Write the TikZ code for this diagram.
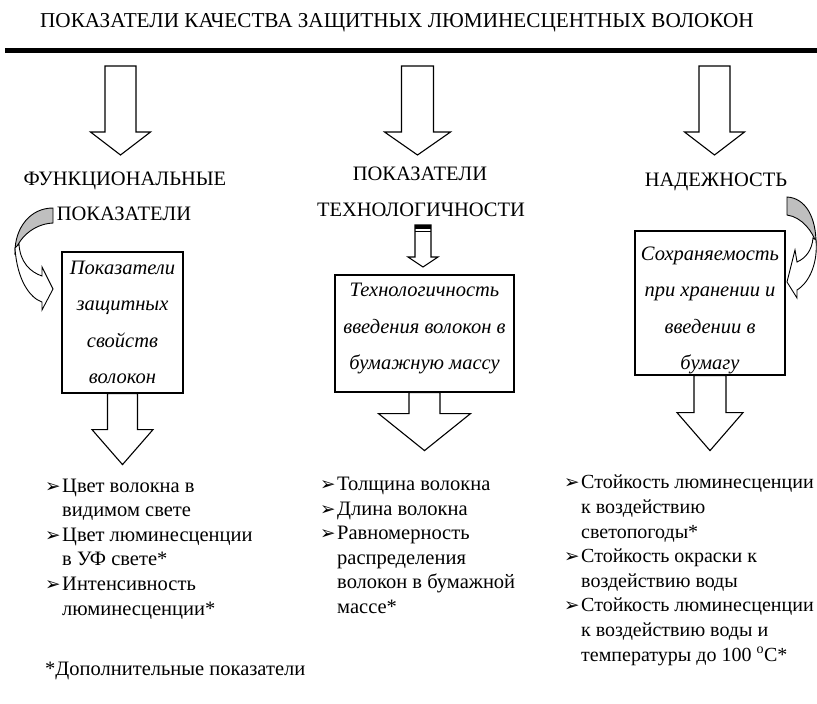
\documentclass[tikz,border=0pt]{standalone}
\usepackage{fontspec}
\setmainfont{Liberation Serif}
\newfontfamily\bulletfont{DejaVu Sans}
\usetikzlibrary{positioning}

\tikzset{
    blockarrow/.style={draw=black, fill=white, line width=1.1pt, line join=miter},
    heading/.style={anchor=base, inner sep=0pt, font=\fontsize{20.5}{24}\selectfont},
    infobox/.style={draw=black, line width=1.2pt, inner sep=0pt},
    boxtext/.style={anchor=base, inner sep=0pt, align=center, font=\fontsize{20.5}{36.5}\selectfont\itshape},
    listtext/.style={anchor=base west, inner sep=0pt, align=left, font=\fontsize{20.5}{24.6}\selectfont},
    curveback/.style={draw=black, fill=black!25, line width=0.9pt},
    curvefront/.style={draw=black, fill=white, line width=0.9pt}
}

% block arrow pointing down: start, shaft length, head length, shaft half width, head half width
\newcommand{\fatarrow}[5]{%
    \draw[blockarrow] (#1) ++(-#4,0) -- ++(2*#4,0) -- ++(0,#2) -- ++(#5-#4,0)
        -- ++(-#5,#3) -- ++(-#5,-#3) -- ++(#5-#4,0) -- cycle;}
\newcommand{\lbul}{\makebox[17pt][l]{\bulletfont\fontsize{18.5}{18}\selectfont ➢}}
\newcommand{\lind}{\hspace*{17pt}}

\begin{document}
\begin{tikzpicture}[x=1pt, y=-1pt]
    \useasboundingbox (0,0) rectangle (817,704);

    % title and rule
    \node[heading, font=\fontsize{21.2}{24}\selectfont] (title) at (397,27.5) {ПОКАЗАТЕЛИ КАЧЕСТВА ЗАЩИТНЫХ ЛЮМИНЕСЦЕНТНЫХ ВОЛОКОН};
    \coordinate (ruleL) at (5,50.5);
    \coordinate (ruleR) at (817,50.5);
    \draw[line width=5pt] (ruleL) -- (ruleR);

    % arrows from the rule
    \coordinate (funcin) at (120.5,66);
    \coordinate (techin) at (417.5,66);
    \coordinate (relin) at (714.5,66);
    \fatarrow{funcin}{66}{23}{15.5}{30}
    \fatarrow{techin}{66}{23}{16}{33}
    \fatarrow{relin}{66}{23}{15.5}{30}

    % group headings
    \node[heading] (func1) at (125,185) {ФУНКЦИОНАЛЬНЫЕ};
    \node[heading] (func2) at (124,220) {ПОКАЗАТЕЛИ};
    \node[heading] (tech1) at (420,180) {ПОКАЗАТЕЛИ};
    \node[heading] (tech2) at (421,216.5) {ТЕХНОЛОГИЧНОСТИ};
    \node[heading] (rel) at (716,186.5) {НАДЕЖНОСТЬ};

    % boxes (text nodes sit on the baseline of their last line)
    \node[infobox, minimum width=121pt, minimum height=141pt] (funcbox) at (122.5,322.5) {};
    \node[infobox, minimum width=179pt, minimum height=117pt] (techbox) at (424.5,333.5) {};
    \node[infobox, minimum width=150pt, minimum height=144pt] (relbox) at (710,303) {};
    \node[boxtext] (functext) at (122.5,383.5) {Показатели\\защитных\\свойств\\волокон};
    \node[boxtext] (techtext) at (424.5,369.5) {Технологичность\\введения волокон в\\бумажную массу};
    \node[boxtext] (reltext) at (710,369.5) {Сохраняемость\\при хранении и\\введении в\\бумагу};

    % small arrow under the middle heading
    \coordinate (techmid) at (423,225);
    \fatarrow{techmid}{32}{10}{8}{15}
    \fill (415,225) rectangle (431,229);
    \draw[line width=1pt] (415,231.5) -- (431,231.5);

    % curved arrows
    \draw[curveback] (53,208) .. controls (30,208) and (15,228) .. (15,252)
        .. controls (18,240) and (32,224) .. (53,223) -- cycle;
    \draw[curvefront] (15,248) .. controls (17,280) and (30,298) .. (42,302) -- (42,310)
        -- (53,289) -- (42,267) -- (42,276) .. controls (30,272) and (20,262) .. (19,244) -- cycle;
    \draw[curveback] (787,197) .. controls (806,198) and (816,218) .. (816,243)
        .. controls (813,232) and (802,217) .. (787,215) -- cycle;
    \draw[curvefront] (813,238) .. controls (812,250) and (806,258) .. (797,262) -- (795,250)
        -- (787,282) -- (797,298) -- (797,290) .. controls (810,282) and (818,262) .. (816,240) -- cycle;

    % arrows from the boxes
    \fatarrow{funcbox.south}{36}{35}{15}{30.5}
    \fatarrow{techbox.south}{21}{37}{15.5}{46}
    \fatarrow{relbox.south}{37}{38}{16}{33}

    % lists (anchored at the baseline of the last line)
    \node[listtext] (funclist) at (45,615) {\lbul Цвет волокна в\\\lind видимом свете\\\lbul Цвет люминесценции\\\lind в УФ свете*\\\lbul Интенсивность\\\lind люминесценции*};
    \node[listtext] (techlist) at (320,613.5) {\lbul Толщина волокна\\\lbul Длина волокна\\\lbul Равномерность\\\lind распределения\\\lind волокон в бумажной\\\lind массе*};
    \node[listtext, font=\fontsize{20}{24.6}\selectfont] (rellist) at (564,661) {\lbul Стойкость люминесценции\\\lind к воздействию\\\lind светопогоды*\\\lbul Стойкость окраски к\\\lind воздействию воды\\\lbul Стойкость люминесценции\\\lind к воздействию воды и\\\lind температуры до 100 \textsuperscript{o}С*};

    % note
    \node[anchor=base west, inner sep=0pt, font=\fontsize{20.5}{24}\selectfont] (note) at (45,675) {*Дополнительные показатели};
\end{tikzpicture}
\end{document}
